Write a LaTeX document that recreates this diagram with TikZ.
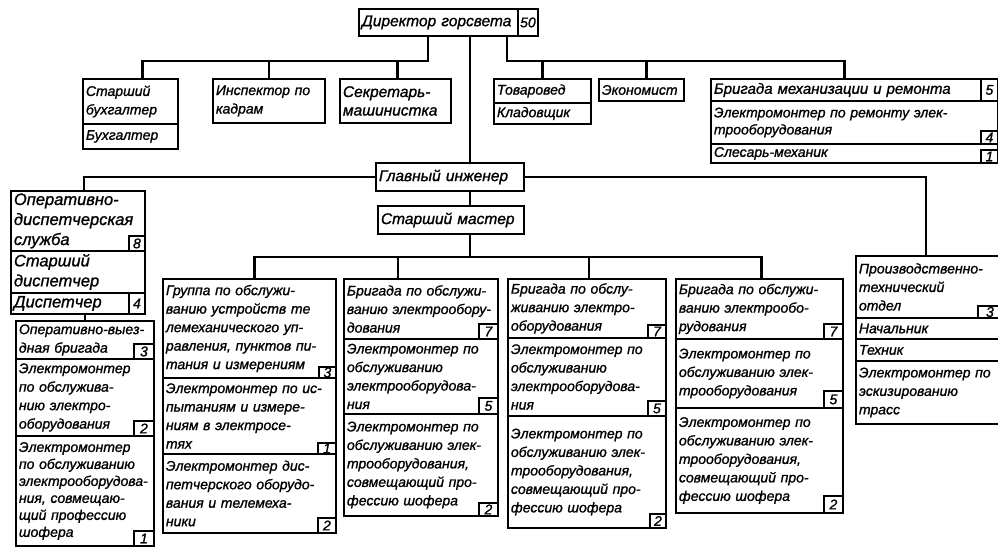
\documentclass[tikz,border=0pt]{standalone}
\usepackage{fontspec}
\setmainfont{Liberation Sans}[ItalicFeatures={FakeBold=1.2}]
\usepackage{tikz}
\newcommand{\labelfont}{\fontsize{14}{18.5}\selectfont\itshape}
\newcommand{\tightfont}{\fontsize{14}{17}\selectfont\itshape}
\newcommand{\midfont}{\fontsize{15.5}{18.5}\selectfont\itshape}
\newcommand{\headfont}{\fontsize{16.5}{20}\selectfont\itshape}
\tikzset{
  box/.style = {draw, line width=1.9pt, anchor=north west, inner xsep=3pt,
    inner ysep=0.5pt, align=left, font=\labelfont},
  num/.style = {draw, line width=1.9pt, anchor=south east, minimum width=18pt,
    minimum height=15pt, inner sep=0pt, font=\labelfont},
  link/.style = {line width=2.8pt}
}

\begin{document}
\begin{tikzpicture}[x=1pt,y=-1pt]
  \clip (0,0) rectangle (998,549);
  %%% director and his staff
  \node[box, text width=173, minimum height=27, font=\midfont] (dir) at (358,8) {Директор горсвета};
  \node[num, minimum width=20, minimum height=27] (dirN) at (dir.south east) {50};
  %
  \node[box, text width=89, minimum height=45] (buhA) at (82,78) {Старший\\бухгалтер};
  \node[box, text width=89, minimum height=25] (buhB) at (82,123) {Бухгалтер};
  \node[box, text width=106, minimum height=44] (insp) at (212,78) {Инспектор по\\кадрам};
  \node[box, text width=105, minimum height=44, font=\midfont] (sekr) at (339,78) {Секретарь-\\машинистка};
  \node[box, text width=91, minimum height=24] (tovA) at (493,78) {Товаровед};
  \node[box, text width=91, minimum height=21] (tovB) at (493,102) {Кладовщик};
  \node[box, text width=79, minimum height=22] (econ) at (598,78) {Экономист};
  %
  \node[box, text width=281, minimum height=22, font=\fontsize{15}{18}\selectfont\itshape] (mechA) at (710,78) {Бригада механизации и ремонта};
  \node[box, text width=281, minimum height=43, font=\tightfont] (mechB) at (710,100) {Электромонтер по ремонту элек-\\трооборудования};
  \node[box, text width=281, minimum height=19] (mechC) at (710,143) {Слесарь-механик};
  \node[num, minimum width=17, minimum height=22] (mechAn) at (mechA.south east) {5};
  \node[num, minimum width=17, minimum height=13] (mechBn) at (mechB.south east) {4};
  \node[num, minimum width=17, minimum height=13] (mechCn) at (mechC.south east) {1};
  %%% engineers
  \node[box, text width=142, minimum height=28, font=\midfont] (gi) at (375,162) {Главный инженер};
  \node[box, text width=140, minimum height=28, font=\midfont] (sm) at (377,205) {Старший мастер};
  %%% dispatch service
  \node[box, text width=128, minimum height=60, font=\headfont] (odsA) at (10,190) {Оперативно-\\диспетчерская\\служба};
  \node[box, text width=128, minimum height=42, font=\headfont] (odsB) at (10,250) {Старший\\диспетчер};
  \node[box, text width=128, minimum height=21, font=\headfont] (odsC) at (10,292) {Диспетчер};
  \node[num, minimum width=16] (odsAn) at (odsA.south east) {8};
  \node[num, minimum width=16, minimum height=21] (odsCn) at (odsC.south east) {4};
  %
  \node[box, text width=132, minimum height=38] (ovbA) at (15,320) {Оперативно-выез-\\дная бригада};
  \node[box, text width=132, minimum height=77] (ovbB) at (15,358) {Электромонтер\\по обслужива-\\нию электро-\\оборудования};
  \node[box, text width=132, minimum height=110, font=\tightfont] (ovbC) at (15,435) {Электромонтер\\по обслуживанию\\электрооборудова-\\ния, совмещаю-\\щий профессию\\шофера};
  \node[num, minimum width=20] (ovbAn) at (ovbA.south east) {3};
  \node[num, minimum width=20] (ovbBn) at (ovbB.south east) {2};
  \node[num, minimum width=20] (ovbCn) at (ovbC.south east) {1};
  %%% telemechanics group
  \node[box, text width=167, minimum height=99] (grpA) at (162,278) {Группа по обслужи-\\ванию устройств те\\лемеханического уп-\\равления, пунктов пи-\\тания и измерениям};
  \node[box, text width=167, minimum height=76] (grpB) at (162,377) {Электромонтер по ис-\\пытаниям и измере-\\ниям в электросе-\\тях};
  \node[box, text width=167, minimum height=79] (grpC) at (162,453) {Электромонтер дис-\\петчерского оборудо-\\вания и телемеха-\\ники};
  \node[num, minimum width=17, minimum height=11] (grpAn) at (grpA.south east) {3};
  \node[num, minimum width=18, minimum height=11] (grpBn) at (grpB.south east) {1};
  \node[num] (grpCn) at (grpC.south east) {2};
  %%% brigades
  \node[box, text width=148, minimum height=60] (brAa) at (343,278) {Бригада по обслужи-\\ванию электрообору-\\дования};
  \node[box, text width=148, minimum height=75] (brAb) at (343,338) {Электромонтер по\\обслуживанию\\электрооборудова-\\ния};
  \node[box, text width=148, minimum height=102] (brAc) at (343,413) {Электромонтер по\\обслуживанию элек-\\трооборудования,\\совмещающий про-\\фессию шофера};
  \node[num, minimum width=19] (brAan) at (brAa.south east) {7};
  \node[num, minimum width=19, minimum height=16] (brAbn) at (brAb.south east) {5};
  \node[num, minimum width=19, minimum height=13] (brAcn) at (brAc.south east) {2};
  %
  \node[box, text width=152, minimum height=59] (brBa) at (507,278) {Бригада по обслу-\\живанию электро-\\оборудования};
  \node[box, text width=152, minimum height=78] (brBb) at (507,337) {Электромонтер по\\обслуживанию\\электрооборудова-\\ния};
  \node[box, text width=152, minimum height=112] (brBc) at (507,415) {Электромонтер по\\обслуживанию элек-\\трооборудования,\\совмещающий про-\\фессию шофера};
  \node[num, minimum height=13] (brBan) at (brBa.south east) {7};
  \node[num] (brBbn) at (brBb.south east) {5};
  \node[num, minimum width=16, minimum height=14] (brBcn) at (brBc.south east) {2};
  %
  \node[box, text width=161, minimum height=60] (brCa) at (675,278) {Бригада по обслужи-\\ванию электрообо-\\рудования};
  \node[box, text width=161, minimum height=69] (brCb) at (675,338) {Электромонтер по\\обслуживанию элек-\\трооборудования};
  \node[box, text width=161, minimum height=105] (brCc) at (675,407) {Электромонтер по\\обслуживанию элек-\\трооборудования,\\совмещающий про-\\фессию шофера};
  \node[num, minimum width=19] (brCan) at (brCa.south east) {7};
  \node[num, minimum width=19, minimum height=17] (brCbn) at (brCb.south east) {5};
  \node[num, minimum width=19, minimum height=17] (brCcn) at (brCc.south east) {2};
  %%% technical department
  \node[box, text width=140, minimum height=62] (ptoA) at (855,255) {Производственно-\\технический\\отдел};
  \node[box, text width=140, minimum height=21] (ptoB) at (855,317) {Начальник};
  \node[box, text width=140, minimum height=22] (ptoC) at (855,338) {Техник};
  \node[box, text width=140, minimum height=63] (ptoD) at (855,360) {Электромонтер по\\эскизированию\\трасс};
  \node[num, minimum width=24, minimum height=12] (ptoAn) at (ptoA.south east) {3};
  %%% connectors
  \coordinate (spine) at (470,0);
  \coordinate (topL) at (428,61);
  \coordinate (topR) at (507,61);
  \coordinate (busM) at (470,257);
  \draw[link] (dir.south -| spine) -- (gi.north -| spine);
  \draw[link] (gi.south -| spine) -- (sm.north -| spine);
  \draw[link] (sm.south -| spine) -- (busM);
  %
  \draw[link] (dir.south -| topL) -- (topL) -| ([xshift=12pt]buhA.north);
  \draw[link] (topL) -| (insp.north);
  \draw[link] (topL) -| ([xshift=2pt]sekr.north);
  \draw[link] (dir.south -| topR) -- (topR) -| (tovA.north);
  \draw[link] (topR) -| ([xshift=5pt]econ.north);
  \draw[link] (topR) -| ([xshift=-10pt]mechA.north);
  %
  \draw[link] (gi.west) -| ([xshift=6pt]odsA.north);
  \draw[link] (gi.east) -| ([xshift=-3pt]ptoA.north);
  \draw[link] (odsC.south -| ovbA.north) -- (ovbA.north);
  \foreach \nn/\dx in {grpA/5,brAa/-23,brBa/2,brCa/2} {
    \draw[link] (busM) -| ([xshift=\dx pt]\nn.north);
  }
\end{tikzpicture}
\end{document}
